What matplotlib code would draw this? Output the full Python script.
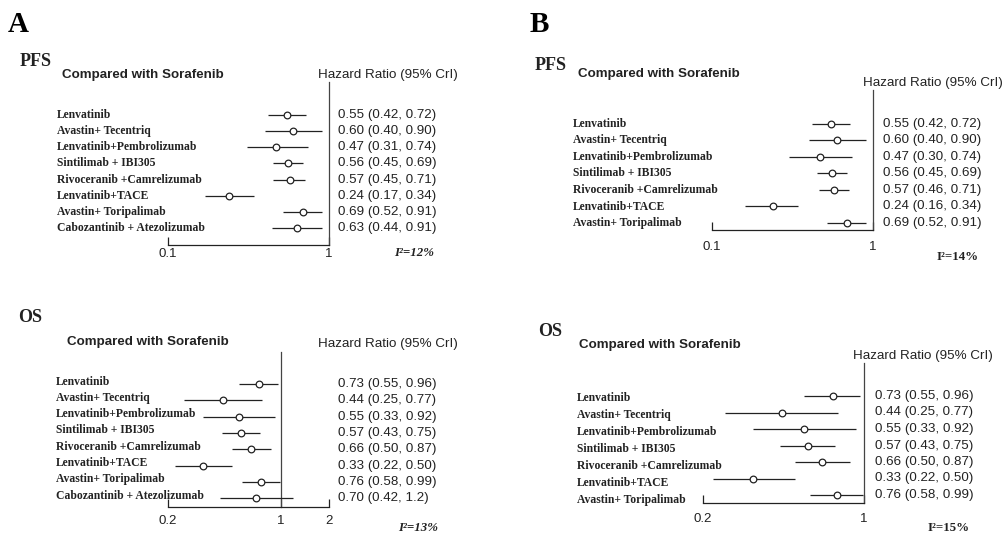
import matplotlib
matplotlib.use("Agg")
import matplotlib.pyplot as plt
import matplotlib.transforms as mtransforms

W, H = 1007, 533

# ---- data ----
treatments = ["Lenvatinib", "Avastin+ Tecentriq", "Lenvatinib+Pembrolizumab",
              "Sintilimab + IBI305", "Rivoceranib +Camrelizumab", "Lenvatinib+TACE",
              "Avastin+ Toripalimab", "Cabozantinib + Atezolizumab"]

pfs_a_hr = [0.55, 0.60, 0.47, 0.56, 0.57, 0.24, 0.69, 0.63]
pfs_a_lo = [0.42, 0.40, 0.31, 0.45, 0.45, 0.17, 0.52, 0.44]
pfs_a_hi = [0.72, 0.90, 0.74, 0.69, 0.71, 0.34, 0.91, 0.91]

os_a_hr = [0.73, 0.44, 0.55, 0.57, 0.66, 0.33, 0.76, 0.70]
os_a_lo = [0.55, 0.25, 0.33, 0.43, 0.50, 0.22, 0.58, 0.42]
os_a_hi = [0.96, 0.77, 0.92, 0.75, 0.87, 0.50, 0.99, 1.2]

pfs_b_hr = [0.55, 0.60, 0.47, 0.56, 0.57, 0.24, 0.69]
pfs_b_lo = [0.42, 0.40, 0.30, 0.45, 0.46, 0.16, 0.52]
pfs_b_hi = [0.72, 0.90, 0.74, 0.69, 0.71, 0.34, 0.91]

os_b_hr = [0.73, 0.44, 0.55, 0.57, 0.66, 0.33, 0.76]
os_b_lo = [0.55, 0.25, 0.33, 0.43, 0.50, 0.22, 0.58]
os_b_hi = [0.96, 0.77, 0.92, 0.75, 0.87, 0.50, 0.99]

i2_values = [12, 13, 14, 15]

SERIF = "Liberation Serif"
SANS = "Liberation Sans"
INK = "#222222"

fig = plt.figure(figsize=(W / 100, H / 100), dpi=100)


def fx(x):
    return x / W


def fy(y):
    return 1 - y / H


def fmt(v):
    return f"{v:.2f}" if v < 1 else f"{v:g}"


def panel(names, hr, lo, hi, g):
    # g: pixel geometry of one forest plot
    left, right = g["x_lo_px"], g["x_hi_px"]
    top, bot = g["top"], g["bot"]
    ax = fig.add_axes([fx(left), fy(bot), (right - left) / W, (bot - top) / H])
    ax.set_xscale("log")
    ax.set_xlim(g["xlim"])
    r0, step = g["row0"], g["step"]
    ax.set_ylim((bot - r0) / step, (top - r0) / step)
    for s in ["top", "right", "left"]:
        ax.spines[s].set_visible(False)
    ax.spines["bottom"].set_color(INK)
    ax.spines["bottom"].set_linewidth(0.9)
    ax.set_yticks([])
    ax.set_xticks(g["ticks"])
    ax.set_xticklabels([f"{t:g}" for t in g["ticks"]], fontfamily=SANS, fontsize=9.5)
    ax.xaxis.set_minor_locator(matplotlib.ticker.NullLocator())
    ax.tick_params(axis="x", direction="in", length=6, width=0.9, color=INK,
                   pad=g["pad"], labelcolor=INK)
    ax.axvline(1, color="#444444", lw=0.9, clip_on=False)

    rows = list(range(len(names)))
    ax.hlines(rows, lo, hi, color=INK, lw=0.9, clip_on=False)
    ax.plot(hr, rows, "o", ms=4.8, mfc="white", mec=INK, mew=0.9, clip_on=False, zorder=3)

    tr = mtransforms.blended_transform_factory(fig.transFigure, ax.transData)
    for i, name in enumerate(names):
        ax.text(fx(g["lab_x"]), i + g["lab_off"] + i * g["lab_drift"], name, transform=tr,
                fontfamily=SERIF, fontweight="bold", fontsize=8.4, color=INK,
                va="center", ha="left")
        ax.text(fx(g["val_x"]), i, f"{fmt(hr[i])} ({fmt(lo[i])}, {fmt(hi[i])})",
                transform=tr, fontfamily=SANS, fontsize=9.6, color=INK,
                va="center", ha="left")

    fig.text(fx(g["cmp"][0]), fy(g["cmp"][1]), "Compared with Sorafenib",
             fontfamily=SANS, fontweight="bold", fontsize=9.6, color=INK, va="center")
    fig.text(fx(g["hz"][0]), fy(g["hz"][1]), "Hazard Ratio (95% CrI)",
             fontfamily=SANS, fontsize=9.6, color=INK, va="center")
    fig.text(fx(g["ttl"][0]), fy(g["ttl"][1]), g["title"],
             fontfamily=SERIF, fontweight="bold", fontsize=13, color=INK, va="center")
    fig.text(fx(g["i2"][0]), fy(g["i2"][1]), f"I\u00b2={g['i2v']}%",
             fontfamily=SERIF, fontweight="bold", fontsize=9.3, color=INK, va="center",
             fontstyle=g["i2style"])
    return ax


panel(treatments, pfs_a_hr, pfs_a_lo, pfs_a_hi,
      dict(x_lo_px=168, x_hi_px=329, xlim=(0.1, 1), ticks=[0.1, 1], top=82, bot=245,
           row0=115, step=16.15, lab_x=57, lab_off=0, lab_drift=0, val_x=338, pad=2,
           cmp=(62, 75), hz=(318, 75), ttl=(20, 61), title="PFS",
           i2=(394, 253), i2v=i2_values[0], i2style="italic"))

panel(treatments, os_a_hr, os_a_lo, os_a_hi,
      dict(x_lo_px=168, x_hi_px=329, xlim=(0.2, 2), ticks=[0.2, 1, 2], top=352, bot=507,
           row0=384, step=16.3, lab_x=56, lab_off=-0.15, lab_drift=0, val_x=338, pad=6,
           cmp=(67, 342), hz=(318, 344), ttl=(18, 318), title="OS",
           i2=(398, 528), i2v=i2_values[1], i2style="italic"))

panel(treatments[:7], pfs_b_hr, pfs_b_lo, pfs_b_hi,
      dict(x_lo_px=712, x_hi_px=873, xlim=(0.1, 1), ticks=[0.1, 1], top=90, bot=230,
           row0=124, step=16.5, lab_x=573, lab_off=0, lab_drift=0, val_x=883, pad=8,
           cmp=(578, 74), hz=(863, 83), ttl=(535, 65), title="PFS",
           i2=(937, 257), i2v=i2_values[2], i2style="normal"))

panel(treatments[:7], os_b_hr, os_b_lo, os_b_hi,
      dict(x_lo_px=703, x_hi_px=864, xlim=(0.2, 1), ticks=[0.2, 1], top=363, bot=503,
           row0=396, step=16.5, lab_x=577, lab_off=0.1, lab_drift=0.035, val_x=875, pad=7,
           cmp=(579, 345), hz=(853, 356), ttl=(538, 332), title="OS",
           i2=(928, 528), i2v=i2_values[3], i2style="normal"))

fig.text(fx(8), fy(25), "A", fontfamily=SERIF, fontweight="bold", fontsize=21,
         color="black", va="center")
fig.text(fx(530), fy(25), "B", fontfamily=SERIF, fontweight="bold", fontsize=21,
         color="black", va="center")

fig.savefig("out.png", dpi=100, facecolor="white")
